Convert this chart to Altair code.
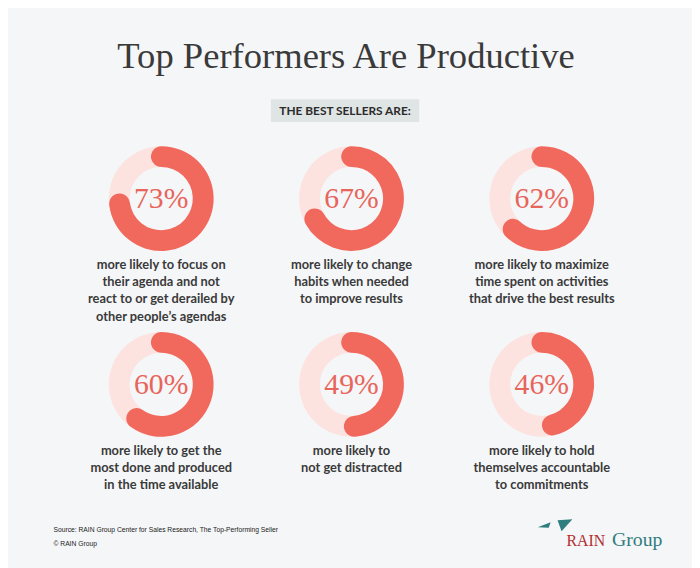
import math
import altair as alt
import pandas as pd

# ---------------- data ----------------
values = [73, 67, 62, 60, 49, 46]
labels = [
    "more likely to focus on\ntheir agenda and not\nreact to or get derailed by\nother people’s agendas",
    "more likely to change\nhabits when needed\nto improve results",
    "more likely to maximize\ntime spent on activities\nthat drive the best results",
    "more likely to get the\nmost done and produced\nin the time available",
    "more likely to\nnot get distracted",
    "more likely to hold\nthemselves accountable\nto commitments",
]
title_text = "Top Performers Are Productive"
badge_text = "THE BEST SELLERS ARE:"
source_text = "Source: RAIN Group Center for Sales Research, The Top-Performing Seller\n© RAIN Group"
logo_words = ["RAIN", "Group"]

# ---------------- layout / style ----------------
OFF = 8  # page margin
COL_X = [163, 355.5, 548]
ROW_Y = [197.5, 385.5]
R_OUT, R_IN = 53, 32
CORNER = 10.5
CAP = round(CORNER / ((R_OUT + R_IN) / 2) / (2 * math.pi) * 100, 2)  # round-cap extension in %

BG = "#f5f6f8"
MAIN = "#f1685d"
TRACK = "#fde3e0"
PCT = "#e8655b"
DARK = "#3a3a3a"
SERIF = "Liberation Serif"
SANS = "Lato"

df = pd.DataFrame({
    "v": values,
    "label": labels,
    "col": [i % 3 for i in range(len(values))],
    "row": [i // 3 for i in range(len(values))],
})

base = alt.Chart(df).encode(
    x=alt.X("col:Q", scale=alt.Scale(domain=[0, 2], range=[COL_X[0] - OFF, COL_X[2] - OFF], nice=False, zero=False), axis=None),
    y=alt.Y("row:Q", scale=alt.Scale(domain=[0, 1], range=[ROW_Y[0] - OFF, ROW_Y[1] - OFF], nice=False, zero=False), axis=None),
)

track = base.mark_arc(radius=R_OUT, radius2=R_IN, theta=0, theta2=2 * math.pi, color=TRACK)

arc = base.transform_calculate(
    t0=f"-{CAP}", t1=f"datum.v + {CAP}"
).mark_arc(radius=R_OUT, radius2=R_IN, cornerRadius=CORNER, color=MAIN).encode(
    theta=alt.Theta("t0:Q", scale=alt.Scale(domain=[0, 100], range=[0, 2 * math.pi]), stack=None),
    theta2="t1:Q",
)

pct = base.transform_calculate(pct="datum.v + '%'").mark_text(
    font=SERIF, fontSize=30, color=PCT, align="center", baseline="middle", dy=1
).encode(text="pct:N")

lab = base.mark_text(
    font=SANS, fontSize=13, fontWeight="bold", color=DARK, align="center",
    baseline="top", lineBreak="\n", lineHeight=17.5, dy=61
).encode(text="label:N")

title = alt.Chart(pd.DataFrame({"t": [title_text]})).mark_text(
    font=SERIF, fontSize=37, color=DARK, align="center", baseline="alphabetic"
).encode(x=alt.value(350 - OFF), y=alt.value(65 - OFF), text="t:N")

badge_bg = alt.Chart(pd.DataFrame({"t": [badge_text]})).mark_rect(color="#dfe4e4").encode(
    x=alt.value(274 - OFF), x2=alt.value(424 - OFF), y=alt.value(97 - OFF), y2=alt.value(120 - OFF)
)
badge = alt.Chart(pd.DataFrame({"t": [badge_text]})).mark_text(
    font=SANS, fontSize=12, fontWeight="bold", color="#2b2b2b", align="center", baseline="middle"
).encode(x=alt.value(349 - OFF), y=alt.value(109 - OFF), text="t:N")

source = alt.Chart(pd.DataFrame({"t": [source_text]})).mark_text(
    font="Liberation Sans Narrow, Liberation Sans", fontSize=6.8, color="#222222", align="left",
    baseline="middle", lineBreak="\n", lineHeight=14
).encode(x=alt.value(54 - OFF), y=alt.value(533 - OFF), text="t:N")

rain = alt.Chart(pd.DataFrame({"t": [logo_words[0]]})).mark_text(
    font=SERIF, fontSize=16, color="#b3302f", align="left", baseline="alphabetic"
).encode(x=alt.value(573 - OFF), y=alt.value(549 - OFF), text="t:N")
group = alt.Chart(pd.DataFrame({"t": [logo_words[1]]})).mark_text(
    font=SERIF, fontSize=20, color="#2f7d7e", align="left", baseline="alphabetic"
).encode(x=alt.value(619 - OFF), y=alt.value(549 - OFF), text="t:N")

wing1 = alt.Chart(pd.DataFrame({"t": ["w"]})).mark_point(
    shape="M -7 3 L 6 -2 L 4 3.5 Z", size=4, filled=True, opacity=1, color="#2f7d7e", strokeWidth=0
).encode(x=alt.value(551 - OFF), y=alt.value(527 - OFF))
wing2 = alt.Chart(pd.DataFrame({"t": ["w"]})).mark_point(
    shape="M -7 -5 L 8 -6 L -3 6 Z", size=4, filled=True, opacity=1, color="#2f7d7e", strokeWidth=0
).encode(x=alt.value(571 - OFF), y=alt.value(528 - OFF))

chart = alt.layer(
    track, arc, pct, lab, badge_bg, badge, title, source, rain, group, wing1, wing2
).properties(
    width=700 - OFF, height=568 - OFF, autosize="none", padding=0, background=BG
).configure_view(stroke=None)

chart.save("out.html", embed_options={"renderer": "svg", "actions": False})
